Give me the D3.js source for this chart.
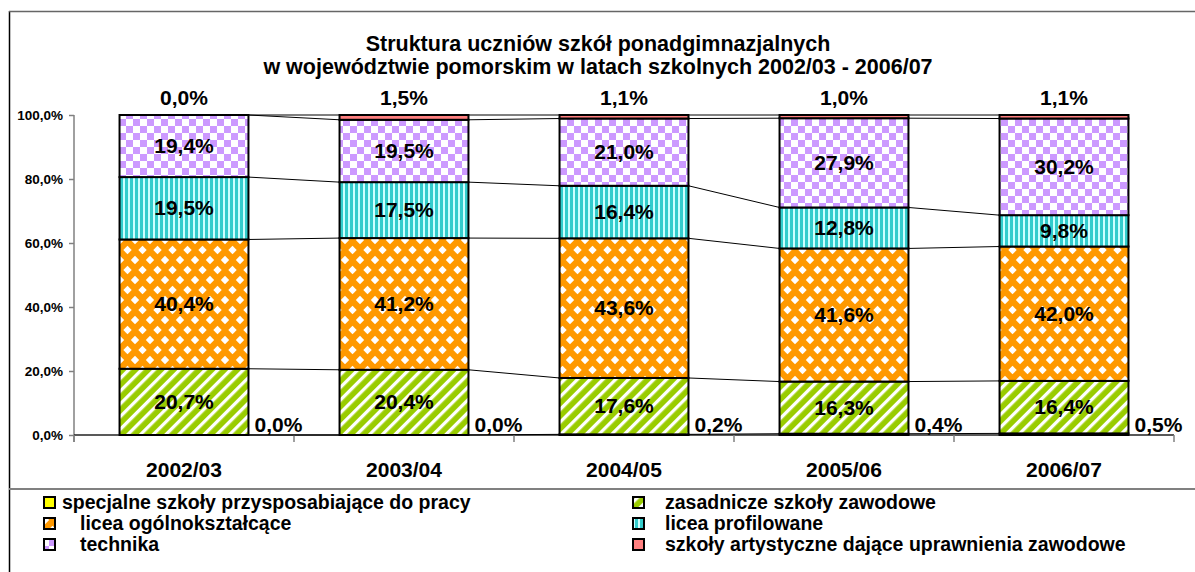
<!DOCTYPE html>
<html><head><meta charset="utf-8">
<script src="https://cdn.jsdelivr.net/npm/d3@7"></script>
<style>body{margin:0;background:#fff}svg{display:block;font-family:"Liberation Sans",Arial,sans-serif;font-weight:bold}</style>
</head><body>
<svg id="c" width="1195" height="572"></svg>
<script>
const categories = ["2002/03","2003/04","2004/05","2005/06","2006/07"];
const seriesNames = ["specjalne szkoły przysposabiające do pracy","zasadnicze szkoły zawodowe","licea ogólnokształcące","licea profilowane","technika","szkoły artystyczne dające uprawnienia zawodowe"];
const specjalne   = [0.0, 0.0, 0.2, 0.4, 0.5];
const zasadnicze  = [20.7, 20.4, 17.6, 16.3, 16.4];
const liceaOgolno = [40.4, 41.2, 43.6, 41.6, 42.0];
const liceaProfil = [19.5, 17.5, 16.4, 12.8, 9.8];
const technika    = [19.4, 19.5, 21.0, 27.9, 30.2];
const artystyczne = [0.0, 1.5, 1.1, 1.0, 1.1];
const yTicks = [0, 20, 40, 60, 80, 100];
const titleLines = ["Struktura uczniów szkół ponadgimnazjalnych","w województwie pomorskim w latach szkolnych 2002/03 - 2006/07"];

const seriesValues = [specjalne, zasadnicze, liceaOgolno, liceaProfil, technika, artystyczne];
const keys = ["s0","s1","s2","s3","s4","s5"];
const table = categories.map((c,i)=>{const o={cat:c}; keys.forEach((k,j)=>o[k]=seriesValues[j][i]); return o;});
const stack = d3.stack().keys(keys).offset(d3.stackOffsetExpand)(table);

const svg = d3.select("#c");
const defs = svg.append("defs");
function pat(id,w,h,bg,draw,transform){
  const p=defs.append("pattern").attr("id",id).attr("patternUnits","userSpaceOnUse").attr("width",w).attr("height",h);
  if(transform) p.attr("patternTransform",transform);
  p.append("rect").attr("width",w).attr("height",h).attr("fill",bg);
  draw(p);
}
pat("p0",4,4,"#FFFF00",()=>{});
pat("p1",9,9,"#99CC00",p=>p.append("rect").attr("x",0).attr("width",3.3).attr("height",9).attr("fill","#fff"),"rotate(45)");
pat("p2",15,20,"#FF9900",p=>{
  [[0,0],[15,0],[7.5,10],[0,20],[15,20]].forEach(([cx,cy])=>p.append("path").attr("d",`M${cx},${cy-4.2}L${cx+4.2},${cy}L${cx},${cy+4.2}L${cx-4.2},${cy}Z`).attr("fill","#fff"));
});
pat("p3",5,5,"#33CCCC",p=>p.append("rect").attr("x",3).attr("width",2).attr("height",5).attr("fill","#CCFFFF"));
pat("p4",14,14,"#fff",p=>{p.append("rect").attr("width",7).attr("height",7).attr("fill","#CC99FF");p.append("rect").attr("x",7).attr("y",7).attr("width",7).attr("height",7).attr("fill","#CC99FF");});
pat("p5",4,4,"#FF8080",()=>{});

const x = d3.scaleBand().domain(categories).range([74,1174]).paddingInner(0.414).paddingOuter(0.207);
const y = d3.scaleLinear().domain([0,1]).range([435,115]);
const fmt = v => d3.format(".1f")(v).replace(".",",")+"%";

// frame
svg.append("line").attr("x1",9.5).attr("x2",9.5).attr("y1",11).attr("y2",572).attr("stroke","#000").attr("stroke-width",1.5);
svg.append("line").attr("x1",9).attr("x2",1195).attr("y1",11.5).attr("y2",11.5).attr("stroke","#666").attr("stroke-width",1.5);
svg.append("line").attr("x1",9).attr("x2",1195).attr("y1",489).attr("y2",489).attr("stroke","#808080").attr("stroke-width",2);

// title
svg.append("g").selectAll("text").data(titleLines).join("text")
  .attr("x",598).attr("y",(d,i)=>51+i*23).attr("text-anchor","middle").attr("font-size",21.5).text(d=>d);

// y axis
const yAxis = svg.append("g").attr("transform","translate(74,0)")
  .call(d3.axisLeft(y).tickValues(yTicks.map(t=>t/100)).tickSize(5).tickFormat(t=>fmt(t*100)));
yAxis.select(".domain").attr("stroke","#808080").attr("stroke-width",1.5).attr("d","M0,115V442");
yAxis.selectAll(".tick line").attr("stroke","#808080").attr("stroke-width",1.5);
yAxis.selectAll(".tick text").attr("font-size",13.5).attr("font-family","Liberation Sans, Arial").attr("font-weight","bold").attr("fill","#000").attr("x",-11);

// x axis
const xAxis = svg.append("g").attr("transform","translate(0,435)")
  .call(d3.axisBottom(x).tickSize(0).tickPadding(0));
xAxis.select(".domain").attr("stroke","#222").attr("stroke-width",1.5).attr("d","M74,0H1174");
xAxis.selectAll(".tick text").attr("font-size",21).attr("font-family","Liberation Sans, Arial").attr("font-weight","bold").attr("fill","#000").attr("dy",0).attr("y",42);
const bounds = [74].concat(categories.map(c=>x(c)+x.bandwidth()+ (x.step()-x.bandwidth())/2));
svg.append("g").selectAll("line").data(bounds).join("line")
  .attr("x1",d=>d).attr("x2",d=>d).attr("y1",435).attr("y2",442).attr("stroke","#808080").attr("stroke-width",1.5);

// series lines
const sl = svg.append("g");
stack.forEach(s=>{
  for(let i=0;i<categories.length-1;i++){
    sl.append("line").attr("x1",x(categories[i])+x.bandwidth()).attr("y1",y(s[i][1]))
      .attr("x2",x(categories[i+1])).attr("y2",y(s[i+1][1])).attr("stroke","#000").attr("stroke-width",1);
  }
});

// bars
const g = svg.append("g");
stack.forEach((s,j)=>{
  g.append("g").selectAll("rect").data(s).join("rect")
    .attr("x",d=>x(d.data.cat)).attr("width",x.bandwidth())
    .attr("y",d=>y(d[1])).attr("height",d=>y(d[0])-y(d[1]))
    .attr("fill",`url(#p${j})`).attr("stroke","#000").attr("stroke-width",2);
});

// labels
const lg = svg.append("g").attr("font-size",21).attr("fill","#000");
stack.forEach((s,j)=>{
  s.forEach((d,i)=>{
    const v = seriesValues[j][i];
    let lx, ly;
    if(j===0){ lx = x(d.data.cat)+x.bandwidth()+30; ly = 432; }
    else if(j===5){ lx = x(d.data.cat)+x.bandwidth()/2; ly = 105; }
    else { lx = x(d.data.cat)+x.bandwidth()/2; ly = (y(d[0])+y(d[1]))/2+7; }
    lg.append("text").attr("x",lx).attr("y",ly).attr("text-anchor","middle").text(fmt(v));
  });
});

// legend
const legendPos = [
  {mx:43,tx:62,y:509},{mx:632,tx:665,y:509},
  {mx:43,tx:80,y:530},{mx:632,tx:665,y:530},
  {mx:43,tx:80,y:551},{mx:632,tx:665,y:551}
];
const leg = svg.append("g").attr("font-size",19.5);
seriesNames.forEach((name,j)=>{
  const p = legendPos[j];
  leg.append("rect").attr("x",p.mx+1).attr("y",p.y-12).attr("width",11).attr("height",11).attr("fill",`url(#p${j})`).attr("stroke","#000").attr("stroke-width",2);
  leg.append("text").attr("x",p.tx).attr("y",p.y).text(name);
});
</script>
</body></html>
